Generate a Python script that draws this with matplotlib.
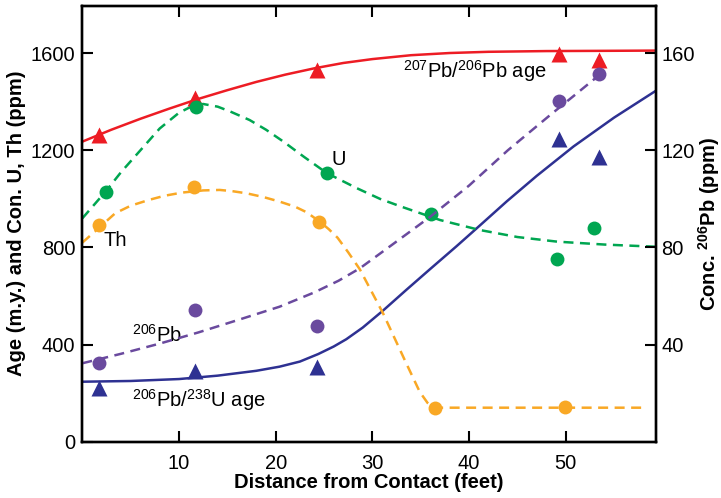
import numpy as np
import matplotlib
matplotlib.use("Agg")
import matplotlib.pyplot as plt

plt.rcParams['font.family'] = ['Liberation Sans', 'DejaVu Sans']
plt.rcParams['mathtext.fontset'] = 'custom'
plt.rcParams['mathtext.rm'] = 'Liberation Sans'
plt.rcParams['mathtext.default'] = 'regular'

# measured points (distance in feet)
x_pts = [1.7, 11.7, 24.3, 49.3, 53.4]
pb76_age = [1265, 1415, 1533, 1598, 1572]
pb6u8_age = [220, 293, 306, 1245, 1174]
pb206_ppm = [32.3, 54.3, 47.7, 140.2, 151.3]

x_u = [2.4, 11.8, 25.3, 36.1, 49.1, 52.9]
u_ppm = [1030, 1380, 1106, 936, 753, 879]

x_th = [1.7, 11.5, 24.5, 36.5, 49.9]
th_ppm = [893, 1048, 904, 137, 142]

# hand-drawn fit curves
red_x = [0, 3, 6, 9, 12, 15, 18, 21, 24, 27, 30, 34, 38, 42, 48, 54, 59.3]
red_y = [1236, 1285, 1330, 1372, 1412, 1448, 1482, 1512, 1538, 1560, 1576, 1592, 1601, 1606, 1609, 1610, 1611]

green_x = [0, 2.4, 4, 6, 8, 10, 11.5, 12.5, 14, 15.3, 17.3, 19, 20.8, 22.9, 25.3, 28.4,
           30.8, 33, 37, 41.1, 45, 49.1, 54, 59.3]
green_y = [920, 1030, 1110, 1200, 1290, 1355, 1385, 1391, 1380, 1360, 1325, 1285, 1236, 1174, 1106, 1044,
           1000, 968, 913, 872, 843, 824, 812, 803]

orange_x = [0, 1.7, 3.4, 5, 6.9, 8.5, 10.3, 12.5, 14.2, 15.5, 17, 18.7, 20.4, 22, 23.2, 24.6,
            25.5, 26.4, 27.5, 28.7, 31.1, 33.5, 34.9, 35.7, 36.3, 58.4]
orange_y = [820, 880, 941, 972, 996, 1013, 1026, 1035, 1037, 1032, 1023, 1008, 989, 968, 945, 905,
            875, 840, 780, 710, 529, 323, 205, 160, 140, 140]

purple_x = [0, 4, 8, 12, 16, 20.4, 24, 26.5, 28.7, 32, 36, 40, 44, 48.4, 51, 54.1]
purple_y = [32.3, 36.2, 40.4, 45.0, 50.0, 55.6, 61.5, 66.3, 71.4, 81.0, 92.7, 105.5, 120.0, 134.6, 143.0, 153.1]

blue_x = [0, 5, 10, 14, 18, 20.4, 22.5, 24.4, 26, 27.3, 29, 31.1, 33.5, 36, 38.7, 41.1,
          43.9, 47, 50.8, 55, 59.3]
blue_y = [247, 250, 258, 272, 292, 309, 330, 361, 392, 422, 470, 540, 625, 712, 805, 890,
          990, 1095, 1216, 1335, 1445]

red = '#ed1c24'
green = '#00a651'
orange = '#f9a825'
purple = '#6a4a9e'
navy = '#2e3192'

fig = plt.figure(figsize=(7.21, 4.98), dpi=100)
ax = fig.add_axes([0.1142, 0.1131, 0.7952, 0.8755])
ax2 = ax.twinx()

dash = (4, 2.6)
ax.plot(red_x, red_y, color=red, lw=1.8)
ax.plot(blue_x, blue_y, color=navy, lw=1.8)
ax.plot(green_x, green_y, color=green, lw=1.8, dashes=dash)
ax.plot(orange_x, orange_y, color=orange, lw=1.8, dashes=dash)
ax2.plot(purple_x, purple_y, color=purple, lw=1.8, dashes=dash)

ax.plot(x_pts, pb76_age, '^', color=red, ms=11, mec='none')
ax.plot(x_pts, pb6u8_age, '^', color=navy, ms=11, mec='none')
ax.plot(x_u, u_ppm, 'o', color=green, ms=10, mec='none')
ax.plot(x_th, th_ppm, 'o', color=orange, ms=10, mec='none')
ax2.plot(x_pts, pb206_ppm, 'o', color=purple, ms=10, mec='none')

ax.set_xlim(0, 59.3)
ax.set_ylim(0, 1796)
ax2.set_ylim(0, 179.6)
ax.set_xticks([10, 20, 30, 40, 50])
ax.set_yticks([0, 400, 800, 1200, 1600])
ax2.set_yticks([40, 80, 120, 160])

fs = 14.5
ax.tick_params(axis='x', direction='in', length=8, width=1.5, labelsize=fs, pad=9, top=True)
ax.tick_params(axis='y', direction='in', length=8, width=1.5, labelsize=fs, pad=5)
ax2.tick_params(axis='y', direction='in', length=8, width=1.5, labelsize=fs, pad=4)
for a in (ax, ax2):
    for s in a.spines.values():
        s.set_linewidth(1.7)

ax.set_xlabel('Distance from Contact (feet)', fontsize=fs, fontweight='bold', labelpad=0)
ax.set_ylabel('Age (m.y.) and Con. U, Th (ppm)', fontsize=fs, fontweight='bold')
ax.yaxis.set_label_coords(-0.098, 0.5)
ax2.set_ylabel('Conc. $^{206}$Pb (ppm)', fontsize=fs, fontweight='bold')
ax2.yaxis.set_label_coords(1.07, 0.5)

ax.text(33.2, 1527, '$^{207}$Pb/$^{206}$Pb age', fontsize=fs, va='center')
ax.text(25.8, 1164, 'U', fontsize=fs, va='center')
ax.text(2.2, 830, 'Th', fontsize=fs, va='center')
ax.text(5.1, 440, '$^{206}$Pb', fontsize=fs, va='center')
ax.text(5.1, 172, '$^{206}$Pb/$^{238}$U age', fontsize=fs, va='center')

fig.savefig('out.png', dpi=100)
